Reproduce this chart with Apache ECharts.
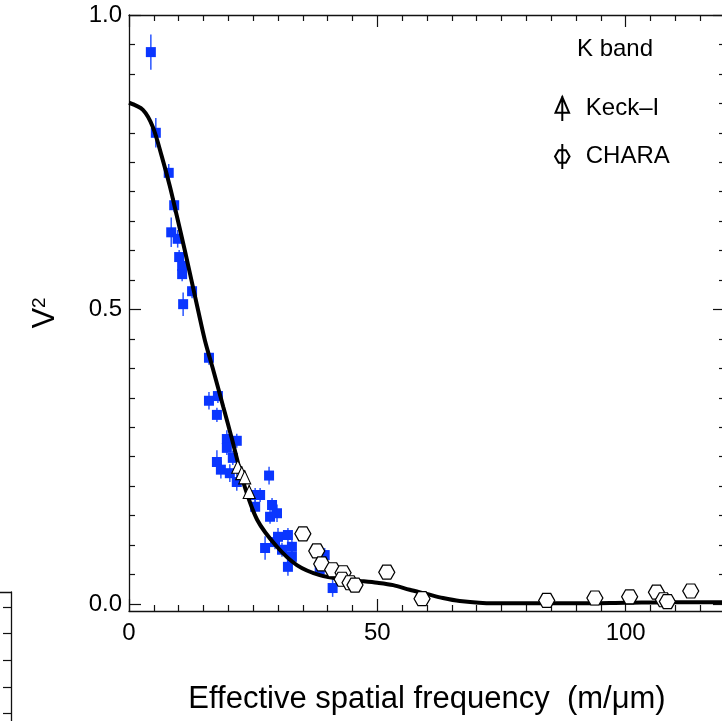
<!DOCTYPE html>
<html>
<head>
<meta charset="utf-8">
<script src="https://cdn.jsdelivr.net/npm/echarts@6/dist/echarts.min.js"></script>
<style>
html, body { margin: 0; padding: 0; background: #fff; overflow: hidden; }
#chart { width: 740px; height: 721px; }
</style>
</head>
<body>
<div id="chart"></div>
<script>
// blue squares (interferometric points) with their error bars
const blueX = [4.4, 5.4, 8.0, 9.1, 8.5, 9.8, 10.1, 10.7, 10.7, 12.7, 10.9,
    16.1, 16.1, 17.9, 17.7, 19.7, 21.7, 19.7, 17.7, 18.5, 20.9, 20.3, 21.7, 28.2,
    26.4, 25.4, 25.4, 28.8, 28.4, 29.8, 30.0, 32.0, 29.4, 27.4, 32.8, 30.8, 32.8,
    32.0, 38.4, 39.4, 41.0];
const blueY = [0.937, 0.800, 0.732, 0.677, 0.631, 0.620, 0.589, 0.574, 0.560, 0.531, 0.509,
    0.418, 0.345, 0.353, 0.321, 0.280, 0.277, 0.265, 0.241, 0.228, 0.248, 0.222, 0.207, 0.218,
    0.185, 0.185, 0.165, 0.168, 0.148, 0.154, 0.114, 0.117, 0.105, 0.095, 0.097, 0.092, 0.080,
    0.063, 0.058, 0.083, 0.027];
const blueErr = [0.030, 0.025, 0.015, 0.012, 0.025, 0.015, 0.012, 0.015, 0.012, 0.012, 0.020,
    0.012, 0.015, 0.012, 0.012, 0.015, 0.012, 0.012, 0.020, 0.015, 0.012, 0.015, 0.015, 0.015,
    0.012, 0.012, 0.015, 0.012, 0.012, 0.015, 0.015, 0.012, 0.012, 0.020, 0.012, 0.012, 0.012,
    0.015, 0.012, 0.012, 0.015];

// Keck-I triangles
const keckX = [21.9, 22.7, 23.3, 24.2];
const keckY = [0.233, 0.222, 0.215, 0.190];
const keckErr = [0.012, 0.012, 0.012, 0.012];

// CHARA hexagons
const charaX = [35.0, 37.8, 38.8, 41.0, 43.1, 42.9, 44.5, 45.5, 51.9, 59.0,
    84.1, 93.8, 100.8, 106.2, 107.6, 108.4, 113.1];
const charaY = [0.119, 0.090, 0.068, 0.058, 0.053, 0.042, 0.036, 0.032, 0.054, 0.009,
    0.006, 0.010, 0.012, 0.020, 0.007, 0.004, 0.022];

// model curve
const modelX = [0, 2.8, 4.8, 6.6, 8.2, 9.6, 11.3, 13.9, 15.3, 17.0, 19.0, 20.7, 23.0,
    25.8, 29.8, 33.8, 38.4, 43.9, 46.5, 50.0, 53.2, 56.5, 59.9, 63.2, 66.6, 73.2, 80, 90, 100, 110, 120];
const modelY = [0.851, 0.839, 0.810, 0.760, 0.710, 0.660, 0.598, 0.499, 0.447, 0.396, 0.334, 0.281, 0.207,
    0.143, 0.097, 0.066, 0.049, 0.041, 0.039, 0.036, 0.032, 0.024, 0.017, 0.010, 0.005, 0.001, 0.001, 0.001, 0.002, 0.003, 0.003];

// ticks
const xLabelTicks = [0, 50, 100];
const xMinorTicks = [5, 10, 15, 20, 25, 30, 35, 40, 45, 55, 60, 65, 70, 75, 80, 85, 90, 95, 105, 110, 115];
const yLabelTicks = [0, 0.5, 1.0];
const yMinorTicks = [0.05, 0.1, 0.15, 0.2, 0.25, 0.3, 0.35, 0.4, 0.45, 0.55, 0.6, 0.65, 0.7, 0.75, 0.8, 0.85, 0.9, 0.95];
// ticks of the neighbouring panel that shows at the bottom-left edge
const sideTicks = [15, 41, 68, 95, 121];

const FONT = '"Liberation Sans", Arial, Helvetica, sans-serif';
const BLUE = '#0a36ff';
const INK = '#111';

const hexPath = 'path://M0,6 L3.5,0 L10.5,0 L14,6 L10.5,12 L3.5,12 Z';

function errBar(color, width) {
    return function (params, api) {
        const x = api.value(0), y = api.value(1), e = api.value(2);
        const p1 = api.coord([x, y - e]), p2 = api.coord([x, y + e]);
        return {
            type: 'line',
            shape: { x1: p1[0], y1: p1[1], x2: p2[0], y2: p2[1] },
            style: { stroke: color, lineWidth: width }
        };
    };
}

function xAx(pos, custom, len, withLabel) {
    return {
        type: 'value', position: pos, min: 0, max: 120,
        axisLine: { show: withLabel !== null, onZero: false, lineStyle: { color: INK, width: 1.3 } },
        axisTick: { show: true, inside: true, length: len, customValues: custom, lineStyle: { color: INK, width: 1.2 } },
        axisLabel: withLabel ? {
            show: true, customValues: xLabelTicks, margin: 10,
            fontFamily: FONT, fontSize: 24, color: '#000'
        } : { show: false },
        splitLine: { show: false }
    };
}
function yAx(pos, custom, len, withLabel) {
    return {
        type: 'value', position: pos, min: -0.012, max: 1,
        axisLine: { show: withLabel !== null, onZero: false, lineStyle: { color: INK, width: 1.3 } },
        axisTick: { show: true, inside: true, length: len, customValues: custom, lineStyle: { color: INK, width: 1.2 } },
        axisLabel: withLabel ? {
            show: true, customValues: yLabelTicks, margin: 7,
            fontFamily: FONT, fontSize: 24, color: '#000',
            formatter: v => v.toFixed(1)
        } : { show: false },
        splitLine: { show: false }
    };
}

const xAxes = [
    xAx('bottom', xLabelTicks, 12, true),
    xAx('bottom', xMinorTicks, 6, null),
    xAx('top', xLabelTicks, 12, false),
    xAx('top', xMinorTicks, 6, null)
];
xAxes[0].name = 'Effective spatial frequency  (m/\u03bcm)';
xAxes[0].nameLocation = 'middle';
xAxes[0].nameGap = 73;
xAxes[0].nameTextStyle = { fontFamily: FONT, fontSize: 31, color: '#000' };
xAxes.push({
    gridIndex: 1, type: 'value', position: 'top', min: 0, max: 1,
    axisLine: { show: true, onZero: false, lineStyle: { color: INK, width: 1.3 } },
    axisTick: { show: false }, axisLabel: { show: false }, splitLine: { show: false }
});

const yAxes = [
    yAx('left', yLabelTicks, 12, true),
    yAx('left', yMinorTicks, 6, null),
    yAx('right', yLabelTicks, 12, false),
    yAx('right', yMinorTicks, 6, null)
];
yAxes[0].name = 'V{s|2}';
yAxes[0].nameLocation = 'middle';
yAxes[0].nameGap = 68;
yAxes[0].nameTextStyle = {
    fontFamily: FONT, fontSize: 31, color: '#000',
    rich: { s: { fontFamily: FONT, fontSize: 19, color: '#000', verticalAlign: 'top', padding: [0, 0, 12, 0] } }
};
yAxes.push({
    gridIndex: 1, type: 'value', position: 'right', inverse: true, min: 0, max: 129,
    axisLine: { show: true, onZero: false, lineStyle: { color: INK, width: 1.3 } },
    axisTick: { show: true, inside: true, length: 8, customValues: sideTicks, lineStyle: { color: INK, width: 1.2 } },
    axisLabel: { show: false }, splitLine: { show: false }
});

const option = {
    animation: false,
    backgroundColor: '#fff',
    title: {
        text: 'K band', left: 572, top: 32,
        textStyle: { fontFamily: FONT, fontSize: 24, fontWeight: 'normal', color: '#000' }
    },
    legend: {
        orient: 'vertical', left: 549, top: 90,
        itemWidth: 15, itemHeight: 25, itemGap: 21,
        textStyle: { fontFamily: FONT, fontSize: 24, color: '#000', padding: [0, 0, 0, 11] },
        data: [
            { name: 'Keck\u2013I', icon: 'path://M6.5,0 L6.5,24 M0,16 L6.5,1 L13,16 Z' },
            { name: 'CHARA', icon: 'path://M7,0 L7,24 M0,12 L3.5,6 L10.5,6 L14,12 L10.5,18 L3.5,18 Z' }
        ]
    },
    grid: [
        { left: 129, right: 15, top: 15, bottom: 110 },
        { left: 0, top: 592, width: 11, height: 129 }
    ],
    xAxis: xAxes,
    yAxis: yAxes,
    series: [
        {
            type: 'custom', name: 'blueErr', z: 2,
            renderItem: errBar('#2a55ff', 1.5),
            encode: { x: 0, y: 1 },
            data: blueX.map((x, i) => [x, blueY[i], blueErr[i]])
        },
        {
            type: 'scatter', name: 'blue', z: 3,
            symbol: 'rect', symbolSize: 10,
            itemStyle: { color: BLUE, opacity: 1 },
            data: blueX.map((x, i) => [x, blueY[i]])
        },
        {
            type: 'line', name: 'model', z: 4,
            smooth: 0.3, showSymbol: false,
            lineStyle: { color: '#000', width: 4 },
            data: modelX.map((x, i) => [x, modelY[i]])
        },
        {
            type: 'custom', name: 'keckErr', z: 5,
            renderItem: errBar('#000', 1),
            encode: { x: 0, y: 1 },
            data: keckX.map((x, i) => [x, keckY[i], keckErr[i]])
        },
        {
            type: 'scatter', name: 'Keck\u2013I', z: 6,
            symbol: 'triangle', symbolSize: [12, 13],
            itemStyle: { color: '#fff', borderColor: '#000', borderWidth: 1.1, opacity: 1 },
            data: keckX.map((x, i) => [x, keckY[i]])
        },
        {
            type: 'scatter', name: 'CHARA', z: 6,
            symbol: hexPath, symbolSize: [16, 14], symbolKeepAspect: false,
            itemStyle: { color: '#fff', borderColor: '#000', borderWidth: 1.2, opacity: 1 },
            data: charaX.map((x, i) => [x, charaY[i]])
        }
    ]
};

const myChart = echarts.init(document.getElementById('chart'));
myChart.setOption(option);
</script>
</body>
</html>
